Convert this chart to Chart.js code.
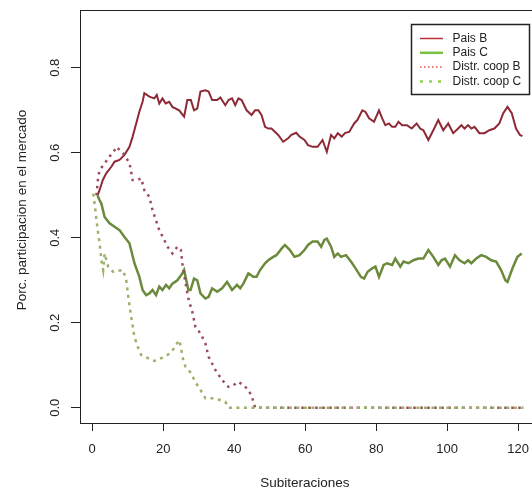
<!DOCTYPE html>
<html lang="es">
<head>
<meta charset="UTF-8">
<title>Porc. participacion en el mercado</title>
<script src="https://cdn.jsdelivr.net/npm/chart.js"></script>
<style>
  html, body { margin: 0; padding: 0; background: #fff; overflow: hidden; }
  #wrap { position: relative; width: 540px; height: 493px; }
</style>
</head>
<body>
<div id="wrap"><canvas id="chart"></canvas></div>
<script>
// [subiteracion, participacion]
const paisB = [
  [1.5,0.50],[2,0.51],[3,0.536],[4,0.552],[5.4,0.567],[6.3,0.579],[7.7,0.583],[9.1,0.595],[10.5,0.614],[11.4,0.638],
  [12.4,0.669],[13.3,0.697],[14.2,0.72],[14.7,0.74],[16.1,0.732],[17.5,0.728],[18.2,0.736],[18.9,0.716],[19.8,0.728],[20.7,0.716],
  [21.7,0.72],[22.6,0.708],[24.5,0.70],[25.9,0.685],[26.8,0.724],[27.8,0.724],[28.7,0.70],[29.6,0.704],[30.5,0.744],[31.9,0.747],
  [32.8,0.744],[33.8,0.724],[35.2,0.724],[36.1,0.73],[37.5,0.712],[38.4,0.724],[39.4,0.728],[40.3,0.712],[41.2,0.728],[42.1,0.724],
  [43.5,0.70],[44.9,0.689],[45.9,0.70],[46.8,0.70],[47.7,0.689],[48.7,0.661],[49.6,0.657],[50.5,0.657],[52.4,0.642],[53.8,0.626],
  [55.2,0.634],[56.1,0.642],[57.5,0.647],[58.4,0.638],[59.8,0.63],[60.8,0.618],[62.1,0.614],[63.5,0.614],[64.9,0.63],[66.1,0.602],
  [67.3,0.642],[68.2,0.634],[69.2,0.646],[70.3,0.638],[71.3,0.647],[72.4,0.649],[73.8,0.669],[74.7,0.677],[76.1,0.70],[77.0,0.696],
  [78.0,0.681],[79.4,0.673],[80.8,0.70],[81.7,0.681],[82.6,0.665],[83.6,0.669],[84.5,0.661],[85.4,0.661],[86.3,0.673],[87.3,0.665],
  [88.7,0.665],[90.0,0.657],[91.4,0.669],[92.4,0.657],[93.3,0.653],[94.7,0.63],[96.1,0.653],[97.5,0.677],[98.9,0.653],[100.3,0.669],
  [101.7,0.646],[103.1,0.657],[104.0,0.665],[104.9,0.657],[105.9,0.665],[106.8,0.657],[107.7,0.661],[109.1,0.646],[110.5,0.646],[111.9,0.653],
  [113.3,0.657],[114.7,0.669],[115.8,0.693],[117.0,0.708],[118.2,0.693],[119.4,0.657],[120.5,0.642],[121.2,0.639]
];
const paisC = [
  [1.5,0.50],[2,0.49],[2.6,0.48],[3.5,0.449],[4.9,0.434],[6.3,0.426],[7.7,0.418],[9.1,0.402],[10.5,0.387],[11.9,0.34],
  [13.3,0.308],[14.2,0.277],[15.2,0.265],[16.1,0.269],[17.0,0.277],[18.0,0.265],[18.9,0.285],[19.8,0.277],[20.8,0.289],[21.7,0.281],
  [22.6,0.292],[24.0,0.30],[25.4,0.316],[25.9,0.324],[26.3,0.308],[27.1,0.277],[27.7,0.277],[28.7,0.304],[29.6,0.30],[30.5,0.269],
  [31.9,0.257],[32.8,0.261],[33.8,0.281],[35.2,0.273],[36.6,0.281],[38.0,0.296],[39.4,0.277],[40.8,0.289],[41.7,0.281],[42.6,0.292],
  [44.0,0.316],[45.4,0.308],[46.3,0.308],[47.3,0.324],[48.7,0.34],[49.6,0.347],[51.0,0.355],[51.9,0.359],[53.4,0.375],[54.3,0.383],
  [55.7,0.371],[57.0,0.355],[58.4,0.359],[59.8,0.371],[60.8,0.383],[62.1,0.391],[63.5,0.391],[64.5,0.379],[65.4,0.395],[66.1,0.398],
  [67.3,0.379],[68.2,0.355],[69.2,0.363],[70.1,0.355],[71.5,0.359],[72.9,0.344],[74.2,0.328],[75.7,0.308],[76.6,0.304],[77.6,0.32],
  [78.9,0.328],[79.8,0.332],[80.8,0.308],[82.1,0.336],[83.1,0.34],[84.5,0.336],[85.4,0.351],[86.8,0.332],[87.7,0.344],[89.1,0.34],
  [90.5,0.347],[91.9,0.351],[93.3,0.351],[94.7,0.371],[96.1,0.355],[97.5,0.336],[98.4,0.347],[99.4,0.351],[100.8,0.332],[102.2,0.359],
  [103.5,0.347],[104.9,0.34],[105.9,0.347],[106.8,0.34],[108.2,0.351],[109.6,0.359],[111.0,0.355],[112.4,0.347],[113.8,0.344],[115.2,0.324],
  [116.4,0.30],[117.0,0.296],[118.4,0.328],[119.8,0.355],[121.0,0.363]
];
const coopB = [
  [1.2,0.50],[1.7,0.544],[2.1,0.559],[3.6,0.576],[4.9,0.591],[6.3,0.606],[6.8,0.614],[8.7,0.599],[10.5,0.576],[11.4,0.536],
  [12.8,0.536],[13.8,0.54],[14.7,0.512],[16.1,0.496],[17.0,0.465],[18.0,0.44],[18.9,0.418],[20.3,0.395],[21.2,0.379],[22.6,0.363],
  [24.0,0.379],[25.0,0.371],[25.4,0.34],[26.3,0.293],[27.2,0.253],[28.2,0.226],[29.1,0.19],[30.5,0.175],[31.9,0.151],[32.8,0.12],
  [34.7,0.089],[36.6,0.065],[38.4,0.049],[39.8,0.053],[41.2,0.061],[42.6,0.053],[44.0,0.042],[45.0,0.026],[45.9,0.0],[121.5,0.0]
];
const coopC = [
  [0.3,0.504],[0.75,0.477],[1.2,0.442],[1.7,0.41],[2.1,0.387],[2.6,0.347],[3.1,0.324],[3.5,0.363],[4.5,0.332],[5.9,0.32],
  [8.7,0.324],[9.6,0.30],[10.3,0.253],[11.0,0.214],[11.9,0.167],[12.8,0.144],[13.8,0.124],[15.6,0.117],[17.5,0.11],[19.8,0.118],
  [22.2,0.129],[24.5,0.159],[25.0,0.144],[25.4,0.12],[26.3,0.096],[27.7,0.083],[29.1,0.06],[30.5,0.042],[31.9,0.022],[33.8,0.022],
  [36.1,0.018],[37.5,0.014],[38.4,0.0],[121.5,0.0]
];

const seriesNames = ['Pais B', 'Pais C', 'Distr. coop B', 'Distr. coop C'];
const xTicks = [0, 20, 40, 60, 80, 100, 120];
const yTicks = [0, 0.2, 0.4, 0.6, 0.8];
const xTitle = 'Subiteraciones';
const yTitle = 'Porc. participacion en el mercado';

const FONT = '"Liberation Sans", Arial, sans-serif';
const INK = '#222';

// legend swatches as they look in the reference box
const legendStyles = [
  { color: '#b8323c', width: 1.5, dash: [] },
  { color: '#7cc242', width: 2.5, dash: [] },
  { color: '#e2534c', width: 1.5, dash: [1.5, 2.5] },
  { color: '#93d155', width: 2.5, dash: [3, 6] }
];

const toPts = arr => arr.map(p => ({ x: p[0], y: p[1] }));

// R-like frame: top border, rotated y labels, axis titles, boxed legend
const rFrame = {
  id: 'rFrame',
  afterDraw(chart) {
    const ctx = chart.ctx;
    const a = chart.chartArea;
    const ys = chart.scales.y;
    ctx.save();
    ctx.strokeStyle = INK;
    ctx.lineWidth = 1;
    ctx.beginPath();
    ctx.moveTo(a.left, a.top + 0.5);
    ctx.lineTo(a.right, a.top + 0.5);
    ctx.stroke();

    ctx.fillStyle = INK;
    ctx.font = '13px ' + FONT;
    ctx.textAlign = 'center';
    ctx.textBaseline = 'middle';
    yTicks.forEach(v => {
      ctx.save();
      ctx.translate(55, ys.getPixelForValue(v));
      ctx.rotate(-Math.PI / 2);
      ctx.fillText(v.toFixed(1), 0, 0);
      ctx.restore();
    });

    ctx.font = '13.5px ' + FONT;
    ctx.save();
    ctx.translate(22, 210);
    ctx.rotate(-Math.PI / 2);
    ctx.fillText(yTitle, 0, 0);
    ctx.restore();
    ctx.fillText(xTitle, (a.left + a.right) / 2 - 3, 483);

    // legend
    const bx = 411.5, by = 24.5, bw = 118, bh = 70;
    ctx.fillStyle = '#fff';
    ctx.fillRect(bx, by, bw, bh);
    ctx.lineWidth = 1.5;
    ctx.strokeStyle = INK;
    ctx.strokeRect(bx, by, bw, bh);
    ctx.font = '12px ' + FONT;
    ctx.textAlign = 'left';
    seriesNames.forEach((name, i) => {
      const yy = 38.5 + i * 14.3;
      const st = legendStyles[i];
      ctx.beginPath();
      ctx.setLineDash(st.dash);
      ctx.strokeStyle = st.color;
      ctx.lineWidth = st.width;
      ctx.moveTo(420, yy);
      ctx.lineTo(443, yy);
      ctx.stroke();
      ctx.setLineDash([]);
      ctx.fillStyle = INK;
      ctx.fillText(name, 452.5, yy);
    });
    ctx.restore();
  }
};

const xGrid = { drawOnChartArea: false, drawTicks: true, tickLength: 8, tickColor: INK, lineWidth: 1 };
const yGrid = { drawOnChartArea: false, drawTicks: true, tickLength: 9, tickColor: INK, lineWidth: 1 };

new Chart(document.getElementById('chart'), {
  type: 'line',
  data: {
    datasets: [
      { label: seriesNames[0], data: toPts(paisB), borderColor: '#8e2a36', borderWidth: 2, pointRadius: 0, tension: 0, order: 4 },
      { label: seriesNames[1], data: toPts(paisC), borderColor: '#6b8a3c', borderWidth: 2.5, pointRadius: 0, tension: 0, order: 3 },
      { label: seriesNames[2], data: toPts(coopB), borderColor: '#9c4a5c', borderWidth: 2.5, borderDash: [2.5, 4.5], pointRadius: 0, tension: 0, order: 2 },
      { label: seriesNames[3], data: toPts(coopC), borderColor: '#9bb26a', borderWidth: 2.5, borderDash: [3, 4.5], pointRadius: 0, tension: 0, order: 1 }
    ]
  },
  options: {
    responsive: true,
    maintainAspectRatio: false,
    animation: false,
    layout: { padding: { top: 10, right: 0, left: 0, bottom: 0 } },
    plugins: { legend: { display: false }, tooltip: { enabled: false } },
    scales: {
      x: {
        type: 'linear',
        min: -3.43,
        max: 125,
        afterBuildTicks: s => { s.ticks = xTicks.map(v => ({ value: v })); },
        afterFit: s => { s.height = 70; },
        grid: xGrid,
        border: { display: true, color: INK, width: 1 },
        ticks: { color: INK, font: { family: FONT, size: 13 }, padding: 11, maxRotation: 0, autoSkip: false }
      },
      y: {
        min: -0.036,
        max: 0.936,
        afterBuildTicks: s => { s.ticks = yTicks.map(v => ({ value: v })); },
        afterFit: s => { s.width = 80; },
        grid: yGrid,
        border: { display: true, color: INK, width: 1 },
        ticks: { display: false }
      }
    }
  },
  plugins: [rFrame]
});
</script>
</body>
</html>
